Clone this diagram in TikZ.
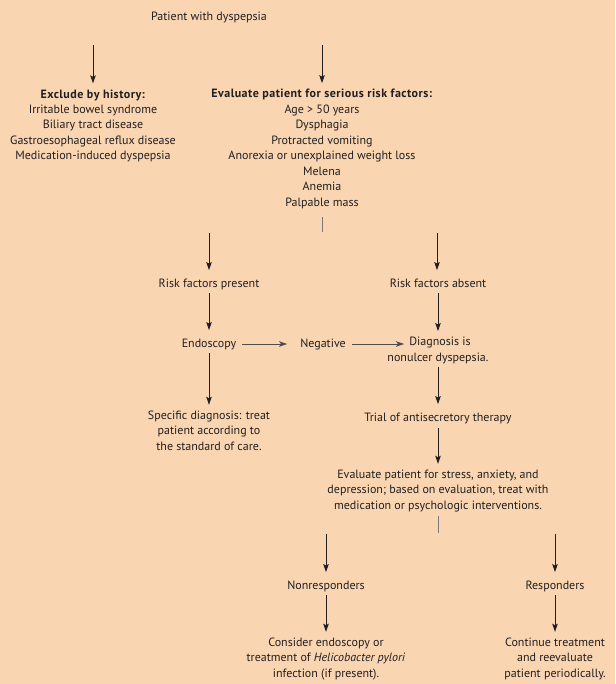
\documentclass[tikz,border=0pt]{standalone}
\usepackage{fontspec}
\setmainfont{PT Sans}
\usetikzlibrary{arrows.meta}
\definecolor{bg}{RGB}{249,213,178}
\definecolor{ink}{RGB}{35,31,32}
\newcommand{\headtxt}[1]{\textbf{\addfontfeatures{LetterSpace=4}#1}}
\begin{document}
\begin{tikzpicture}[x=1pt,y=-1pt,
  txt/.style={font=\fontsize{12}{15.45}\selectfont, text=ink, align=center, inner sep=0pt, yshift=-2pt,
    execute at begin node={\strut}, execute at end node={\strut}},
  arr/.style={draw=ink, line width=0.75pt, shorten >=6pt, -{Stealth[length=8pt,width=5.5pt,inset=1.5pt]}},
  harr/.style={draw=ink!80, line width=0.5pt, -{Stealth[length=8pt,width=5.5pt,inset=2pt]}},
  stub/.style={draw=ink!60, line width=0.5pt}]
\fill[bg] (0,0) rectangle (615,684);
\useasboundingbox (0,0) rectangle (615,684);

\node[txt] (pat) at (209,15) {Patient with dyspepsia};
\node[txt] (excl) at (93,125) {\headtxt{Exclude by history:}\\Irritable bowel syndrome\\Biliary tract disease\\Gastroesophageal reflux disease\\Medication-induced dyspepsia};
\node[txt] (eval) at (322,148) {\headtxt{Evaluate patient for serious risk factors:}\\Age > 50 years\\Dysphagia\\Protracted vomiting\\Anorexia or unexplained weight loss\\Melena\\Anemia\\Palpable mass};
\node[txt] (rfp) at (209,282) {Risk factors present};
\node[txt] (rfa) at (438,282) {Risk factors absent};
\node[txt] (endo) at (209,342) {Endoscopy};
\node[txt] (neg) at (323,342) {Negative};
\node[txt] (diag) at (438,349.5) {\hspace*{4pt}Diagnosis is\\nonulcer dyspepsia.};
\node[txt] (spec) at (209,431) {Specific diagnosis: treat\\patient according to\\the standard of care.};
\node[txt] (trial) at (438,416) {Trial of antisecretory therapy};
\node[txt] (stress) at (438,490) {Evaluate patient for stress, anxiety, and\\depression; based on evaluation, treat with\\medication or psychologic interventions.};
\node[txt] (nonr) at (326,584) {Nonresponders};
\node[txt] (resp) at (555,584) {Responders};
\node[txt] (cons) at (326,658) {Consider endoscopy or\\treatment of \textit{Helicobacter pylori}\\infection (if present).};
\node[txt] (cont) at (555,658) {Continue treatment\\and reevaluate\\patient periodically.};

% free ends
\coordinate (s1) at (93,45);
\coordinate (s2) at (322,45);
\coordinate (e2) at (322,232);
\coordinate (s3) at (209,233);
\coordinate (s4) at (437,233);
\coordinate (diagin) at (neg.east -| 404,0);
\coordinate (f2) at (438,533);
\coordinate (s5) at (326,534);
\coordinate (s6) at (555,534);

\draw[arr] (s1) -- (excl.north);
\draw[arr] (s2) -- (eval.north);
\draw[stub, shorten <=6pt] (eval.south) -- (e2);
\draw[arr] (s3) -- (rfp.north);
\draw[arr] (s4) -- (s4 |- rfa.north);
\draw[arr, shorten <=1.5pt] (rfp.south) -- (endo.north);
\draw[arr, shorten <=1.5pt] (rfa.south) -- (rfa.south |- diag.north);
\draw[arr, shorten <=1.5pt] (endo.south) -- (spec.north);
\draw[arr, shorten <=1.5pt] (diag.south -| trial.south) -- (trial.north);
\draw[harr, shorten <=6pt, shorten >=13pt] (endo.east) -- (neg.west);
\draw[harr, shorten <=6pt] (neg.east) -- (diagin);
\draw[arr, shorten <=2pt] (trial.south) -- (stress.north);
\draw[stub, shorten <=2pt] (stress.south) -- (f2);
\draw[arr] (s5) -- (nonr.north);
\draw[arr] (s6) -- (resp.north);
\draw[arr, shorten <=1.5pt] (nonr.south) -- (cons.north);
\draw[arr, shorten <=1.5pt] (resp.south) -- (cont.north);
\end{tikzpicture}
\end{document}
